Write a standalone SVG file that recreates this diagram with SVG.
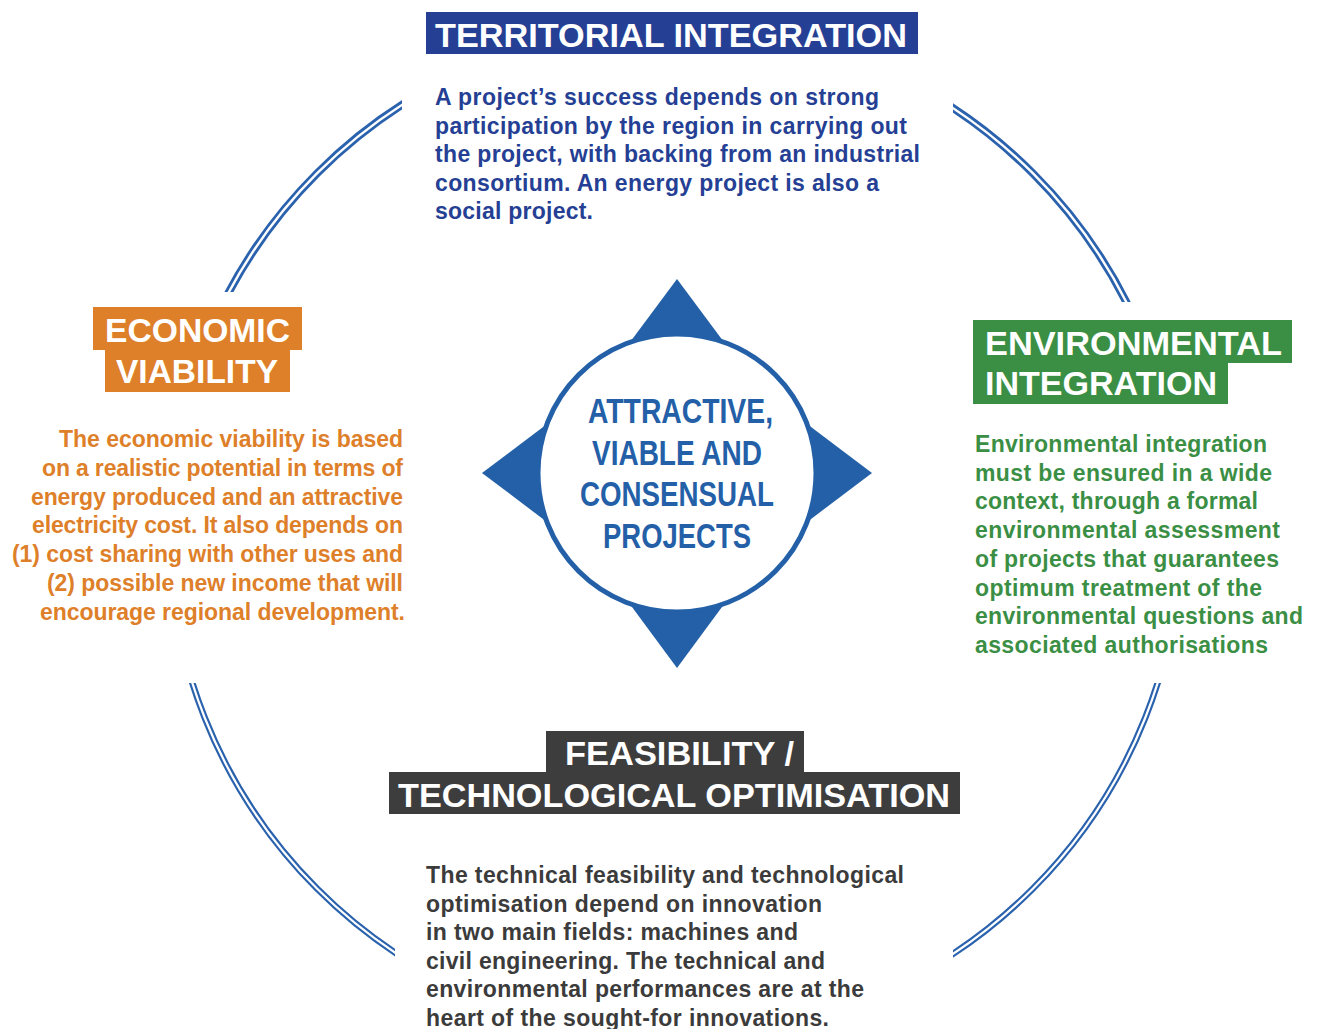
<svg xmlns="http://www.w3.org/2000/svg" width="1324" height="1029" viewBox="0 0 1324 1029">
  <style>
    .title { font-family: "Liberation Sans", Arial, sans-serif; font-weight: bold; font-size: 34px; fill: #ffffff; }
    .body { font-family: "Liberation Sans", Arial, sans-serif; font-weight: bold; font-size: 23px; }
    .blue { fill: #253f94; }
    .green { fill: #3b8f45; }
    .orange { fill: #de7f2a; }
    .gray { fill: #3b3b3b; }
    .center { font-family: "Liberation Sans", Arial, sans-serif; font-weight: bold; font-size: 35px; fill: #2460a8; }
    .arcOuter { fill: none; stroke: #2a62ad; }
    .arcInner { fill: none; stroke: #ffffff; }
  </style>
  <defs>
    <clipPath id="cTL"><rect x="0" y="0" width="402" height="292"/></clipPath>
    <clipPath id="cTR"><rect x="953" y="0" width="371" height="302"/></clipPath>
    <clipPath id="cBL"><rect x="0" y="683" width="395" height="346"/></clipPath>
    <clipPath id="cBR"><rect x="953" y="683" width="371" height="346"/></clipPath>
  </defs>
  <rect x="0" y="0" width="1324" height="1029" fill="#ffffff"/>

  <g id="connectors">
    <g clip-path="url(#cTL)">
      <circle class="arcOuter" cx="675" cy="531" r="506" stroke-width="8"/>
      <circle class="arcInner" cx="675" cy="531" r="506" stroke-width="2.4"/>
    </g>
    <g clip-path="url(#cTR)">
      <circle class="arcOuter" cx="675" cy="531" r="506" stroke-width="8"/>
      <circle class="arcInner" cx="675" cy="531" r="506" stroke-width="2.4"/>
    </g>
    <g clip-path="url(#cBL)">
      <circle class="arcOuter" cx="675" cy="531" r="506" stroke-width="6.5"/>
      <circle class="arcInner" cx="675" cy="531" r="506" stroke-width="2.2"/>
    </g>
    <g clip-path="url(#cBR)">
      <circle class="arcOuter" cx="675" cy="531" r="506" stroke-width="6.5"/>
      <circle class="arcInner" cx="675" cy="531" r="506" stroke-width="2.2"/>
    </g>
  </g>

  <g id="center-hub">
    <polygon points="677,279 587,400 767,400" fill="#2460a8"/>
    <polygon points="677,668 587,546 767,546" fill="#2460a8"/>
    <polygon points="482,473 600,384 600,562" fill="#2460a8"/>
    <polygon points="872,473 754,384 754,562" fill="#2460a8"/>
    <circle cx="677" cy="473" r="139" fill="#ffffff" stroke="#2460a8" stroke-width="5"/>
    <text class="center" x="588" y="423" textLength="185" lengthAdjust="spacingAndGlyphs">ATTRACTIVE,</text>
    <text class="center" x="592" y="465" textLength="170" lengthAdjust="spacingAndGlyphs">VIABLE AND</text>
    <text class="center" x="580" y="506" textLength="194" lengthAdjust="spacingAndGlyphs">CONSENSUAL</text>
    <text class="center" x="603" y="548" textLength="148" lengthAdjust="spacingAndGlyphs">PROJECTS</text>
  </g>

  <g id="territorial-integration">
    <rect x="426" y="12" width="492" height="42" fill="#253f94"/>
    <text class="title" x="435" y="47" textLength="472" lengthAdjust="spacingAndGlyphs">TERRITORIAL INTEGRATION</text>
    <text class="body blue" x="435" y="105" textLength="444">A project’s success depends on strong</text>
    <text class="body blue" x="435" y="133.6" textLength="472">participation by the region in carrying out</text>
    <text class="body blue" x="435" y="162.2" textLength="485">the project, with backing from an industrial</text>
    <text class="body blue" x="435" y="190.8" textLength="444">consortium. An energy project is also a</text>
    <text class="body blue" x="435" y="219.4" textLength="158">social project.</text>
  </g>

  <g id="environmental-integration">
    <rect x="973" y="320" width="319" height="43" fill="#3b8f45"/>
    <rect x="973" y="362" width="255" height="42" fill="#3b8f45"/>
    <text class="title" x="985" y="355" textLength="297" lengthAdjust="spacingAndGlyphs">ENVIRONMENTAL</text>
    <text class="title" x="985" y="395" textLength="232" lengthAdjust="spacingAndGlyphs">INTEGRATION</text>
    <text class="body green" x="975" y="452" textLength="292">Environmental integration</text>
    <text class="body green" x="975" y="480.7" textLength="297">must be ensured in a wide</text>
    <text class="body green" x="975" y="509.4" textLength="283">context, through a formal</text>
    <text class="body green" x="975" y="538.1" textLength="305">environmental assessment</text>
    <text class="body green" x="975" y="566.8" textLength="304">of projects that guarantees</text>
    <text class="body green" x="975" y="595.5" textLength="287">optimum treatment of the</text>
    <text class="body green" x="975" y="624.2" textLength="328">environmental questions and</text>
    <text class="body green" x="975" y="652.9" textLength="293">associated authorisations</text>
  </g>

  <g id="economic-viability">
    <rect x="93" y="307" width="209" height="43" fill="#de7f2a"/>
    <rect x="105" y="349" width="185" height="43" fill="#de7f2a"/>
    <text class="title" x="105" y="342" textLength="185" lengthAdjust="spacingAndGlyphs">ECONOMIC</text>
    <text class="title" x="116" y="383" textLength="162" lengthAdjust="spacingAndGlyphs">VIABILITY</text>
    <text class="body orange" x="59" y="447" textLength="344">The economic viability is based</text>
    <text class="body orange" x="42" y="475.8" textLength="361">on a realistic potential in terms of</text>
    <text class="body orange" x="31" y="504.6" textLength="372">energy produced and an attractive</text>
    <text class="body orange" x="32" y="533.4" textLength="371">electricity cost. It also depends on</text>
    <text class="body orange" x="12" y="562.2" textLength="391">(1) cost sharing with other uses and</text>
    <text class="body orange" x="47" y="591" textLength="356">(2) possible new income that will</text>
    <text class="body orange" x="40" y="619.8" textLength="365">encourage regional development.</text>
  </g>

  <g id="feasibility">
    <rect x="546" y="731" width="258" height="42" fill="#3d3d3d"/>
    <rect x="389" y="772" width="571" height="42" fill="#3d3d3d"/>
    <text class="title" x="565" y="765" textLength="229" lengthAdjust="spacingAndGlyphs">FEASIBILITY /</text>
    <text class="title" x="398" y="807" textLength="552" lengthAdjust="spacingAndGlyphs">TECHNOLOGICAL OPTIMISATION</text>
    <text class="body gray" x="426" y="883" textLength="478">The technical feasibility and technological</text>
    <text class="body gray" x="426" y="911.6" textLength="396">optimisation depend on innovation</text>
    <text class="body gray" x="426" y="940.2" textLength="372">in two main fields: machines and</text>
    <text class="body gray" x="426" y="968.8" textLength="399">civil engineering. The technical and</text>
    <text class="body gray" x="426" y="997.4" textLength="438">environmental performances are at the</text>
    <text class="body gray" x="426" y="1026" textLength="403">heart of the sought-for innovations.</text>
  </g>
</svg>
